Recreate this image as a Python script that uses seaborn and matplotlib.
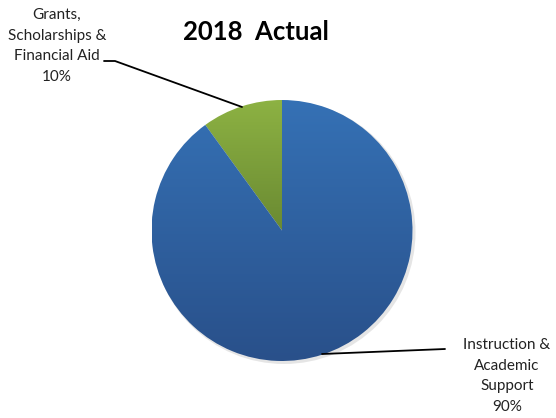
import numpy as np
import seaborn as sns
import matplotlib
matplotlib.use('Agg')
import matplotlib.pyplot as plt
from matplotlib.colors import LinearSegmentedColormap
from matplotlib.patches import Circle

# data
categories = ['Grants,\nScholarships &\nFinancial Aid', 'Instruction &\nAcademic\nSupport']
shares = [10, 90]
top_colors = ['#8db243', '#3571b5']
bottom_colors = ['#6a8a32', '#29508a']

sns.set_theme(style="white")
plt.rcParams['font.family'] = ['Lato', 'DejaVu Sans']

W, H = 556, 418
f = plt.figure(figsize=(W / 100, H / 100), dpi=100)
ax = f.add_axes([0, 0, 1, 1])

cx, cy, r = 282, H - 230.5, 130.5

# faint shadow
ax.add_patch(Circle((cx + 2, cy - 2), r + 1, color='#cccccc', alpha=0.5, lw=0, zorder=0))

wedges, _ = ax.pie(shares, startangle=90, counterclock=True, center=(cx, cy), radius=r,
                   colors=top_colors, wedgeprops=dict(linewidth=0), frame=True)
ax.set_xlim(0, W)
ax.set_ylim(0, H)
ax.axis('off')

# vertical gradient fill clipped to each wedge
inv = ax.transData.inverted()
for w, c0, c1 in zip(wedges, top_colors, bottom_colors):
    bb = w.get_window_extent()
    (bx0, by0), (bx1, by1) = inv.transform([[bb.x0, bb.y0], [bb.x1, bb.y1]])
    cmap = LinearSegmentedColormap.from_list('g', [c1, c0])
    grad = np.linspace(0, 1, 256).reshape(-1, 1)
    im = ax.imshow(grad, cmap=cmap, origin='lower', aspect='auto',
                   extent=[bx0, bx1, by0, by1], zorder=2)
    im.set_clip_path(w)
    w.set_visible(False)

ax.set_xlim(0, W)
ax.set_ylim(0, H)

# title
ax.text(256, H - 32, '2018  Actual', ha='center', va='center', fontsize=18.5, fontweight='bold', color='black')

# labels and leader lines
ax.plot([104, 115, 242], [H - 61, H - 61, H - 107], color='black', lw=1.3, zorder=3)
ax.text(57, H - 46, categories[0] + '\n%d%%' % shares[0], ha='center', va='center',
        fontsize=11, linespacing=1.6, color='#222222')

ax.plot([322, 445], [H - 354, H - 349], color='black', lw=1.3, zorder=3)
ax.text(507, H - 376, categories[1] + '\n%d%%' % shares[1], ha='center', va='center',
        fontsize=11, linespacing=1.6, color='#222222')

f.savefig('out.png', dpi=100)
